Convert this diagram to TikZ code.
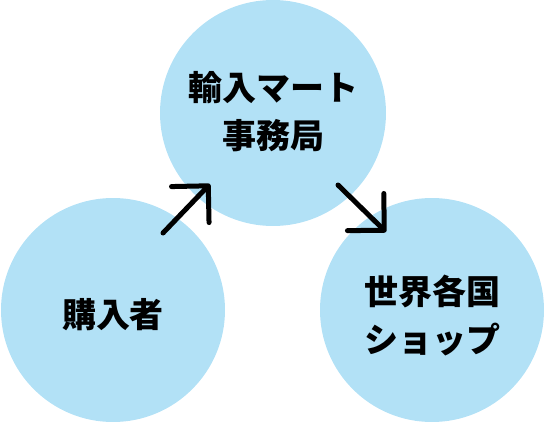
\documentclass[tikz,border=0pt]{standalone}
\usepackage{fontspec}
\newfontfamily\jpfont{Noto Sans CJK JP}
\usetikzlibrary{arrows.meta}

\begin{document}
\begin{tikzpicture}[x=1pt,y=-1pt]
\definecolor{bubbleBlue}{HTML}{B2E1F6}
\tikzset{
  bubble/.style={circle,fill=bubbleBlue,inner sep=0pt},
  caption/.style={align=center,inner sep=0pt,
    font=\jpfont\bfseries\fontsize{34}{48}\selectfont},
  flow/.style={line width=5pt,line cap=round,
    -{Straight Barb[length=26pt,width=52pt,line cap=round,line join=round]}}
}
\useasboundingbox (0,0) rectangle (547,423);
\node[bubble,minimum size=226pt] (office) at (273,113) {};
\node[bubble,minimum size=224pt] (buyer) at (113,310) {};
\node[bubble,minimum size=224pt] (shops) at (432,310) {};
\node[caption] (officeText) at ([yshift=1pt]office.center) {輸入マート\\事務局};
\node[caption] (buyerText) at ([yshift=-5pt]buyer.center) {購入者};
\node[caption] (shopsText) at ([yshift=-6pt]shops.center) {世界各国\\ショップ};
\coordinate (upFrom) at (163,233);
\coordinate (upTo) at (210,184);
\coordinate (downFrom) at (338,185);
\coordinate (downTo) at (386,232);
\draw[flow] (upFrom) -- (upTo);
\draw[flow] (downFrom) -- (downTo);
\end{tikzpicture}
\end{document}
